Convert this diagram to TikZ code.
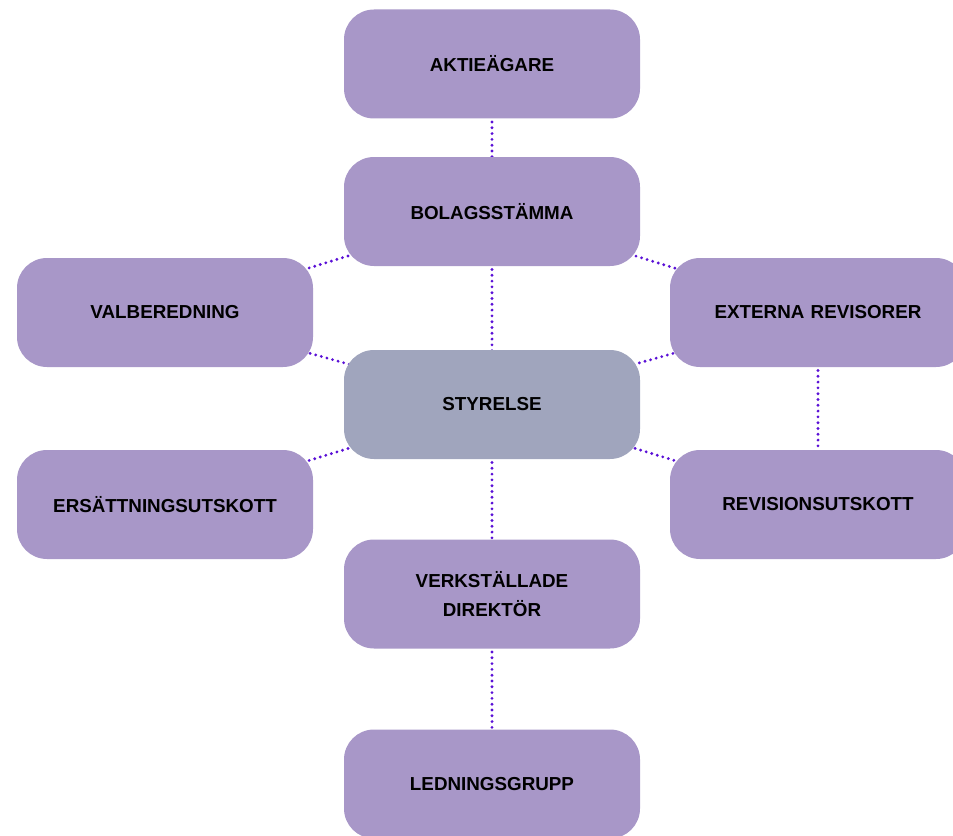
\documentclass[tikz,border=0pt]{standalone}
\usepackage{fontspec}
\setmainfont{Liberation Sans}
\definecolor{orgpurple}{RGB}{168,151,200}
\definecolor{orggrey}{RGB}{160,165,189}
\definecolor{orgviolet}{RGB}{90,16,214}
\usetikzlibrary{backgrounds}

\begin{document}
\begin{tikzpicture}[
    % Define styles
    orgbox/.style={rectangle, rounded corners=0.6cm, fill=orgpurple, minimum width=5.92cm, minimum height=2.18cm, align=center, text width=5.4cm},
    boardbox/.style={orgbox, fill=orggrey},
    link/.style={draw=orgviolet, line width=1.8pt, line cap=round, dash pattern=on 0pt off 3.3pt},
    % Font
    font=\fontsize{10.7}{16}\selectfont\bfseries
]
\useasboundingbox (0,0) rectangle (19.06,16.7);
\clip (0,0) rectangle (19.06,16.7);

% Middle column
\node[orgbox] (aktie) at (9.84, 15.42) {AKTIEÄGARE};
\node[orgbox] (bolag) at (9.84, 12.47) {BOLAGSSTÄMMA};
\node[boardbox] (styr) at (9.84, 8.61) {STYRELSE};
\node[orgbox] (vd) at (9.84, 4.82) {VERKSTÄLLADE\\DIREKTÖR};
\node[orgbox] (led) at (9.84, 1.02) {LEDNINGSGRUPP};

% Left column
\node[orgbox] (valb) at (3.30, 10.45) {VALBEREDNING};
\node[orgbox] (ers) at (3.30, 6.61) {ERSÄTTNINGSUTSKOTT};

% Right column
\node[orgbox] (ext) at (16.36, 10.45) {EXTERNA REVISORER};
\node[orgbox] (rev) at (16.36, 6.61) {REVISIONSUTSKOTT};

% Connections
\begin{scope}[on background layer]
\draw[link] (aktie.center) -- (bolag.center);
\draw[link] (bolag.center) -- (styr.center);
\draw[link] (styr.center) -- (vd.center);
\draw[link] (vd.center) -- (led.center);
\draw[link] (bolag.center) -- (valb.center);
\draw[link] (bolag.center) -- (ext.center);
\draw[link] (valb.center) -- (styr.center);
\draw[link] (ext.center) -- (styr.center);
\draw[link] (ers.center) -- (styr.center);
\draw[link] (rev.center) -- (styr.center);
\draw[link] (ext.center) -- (rev.center);
\end{scope}

\end{tikzpicture}
\end{document}
